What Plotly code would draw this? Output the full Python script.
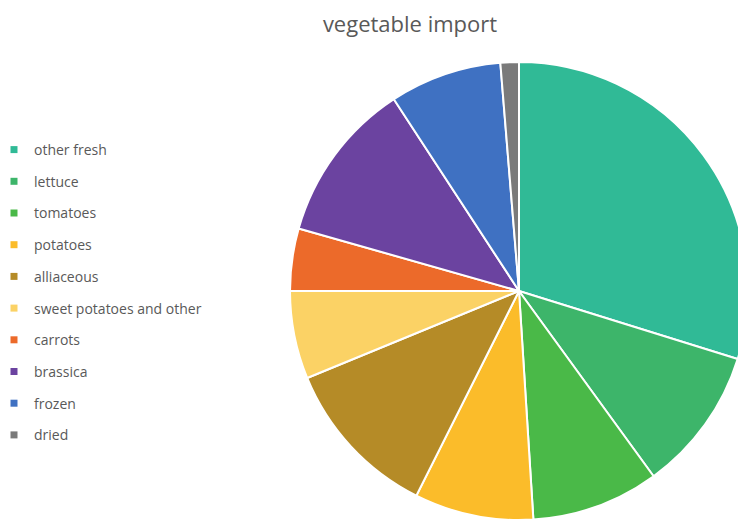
import plotly.graph_objects as go

categories = ["other fresh", "lettuce", "tomatoes", "potatoes", "alliaceous",
              "sweet potatoes and other", "carrots", "brassica", "frozen", "dried"]
values = [29.8, 10.2, 9.0, 8.4, 11.4, 6.2, 4.4, 11.4, 7.9, 1.3]
colors = ["#30BA96", "#3DB56A", "#4AB948", "#FBBC2A", "#B58B27",
          "#FBD265", "#EC6A2A", "#6B43A0", "#3F71C2", "#7A7A7A"]

W, H = 746, 520

fig = go.Figure()
fig.add_trace(go.Pie(
    labels=categories, values=values, sort=False, direction="clockwise",
    rotation=0, textinfo="none", showlegend=False,
    marker=dict(colors=colors, line=dict(color="white", width=2)),
    domain=dict(x=[282 / W, 740 / W], y=[1 - 512 / H, 1 - 54 / H]),
))
# legend entries (one per category, separate groups for spacing)
for c, col in zip(categories, colors):
    fig.add_trace(go.Scatter(
        x=[None], y=[None], mode="markers", name=c, legendgroup=c,
        marker=dict(symbol="square", size=7, color=col),
    ))

fig.update_layout(
    width=W, height=H,
    margin=dict(l=0, r=0, t=0, b=0, autoexpand=False),
    paper_bgcolor="white", plot_bgcolor="white",
    title=dict(text="vegetable import", x=402 / W, xanchor="center",
               y=1 - 16 / H, yanchor="middle", yref="container",
               font=dict(family="Open Sans", size=22, color="#595959")),
    legend=dict(x=-14 / W, xanchor="left", y=1 - 284.5 / H, yanchor="middle",
                tracegroupgap=10.5, font=dict(family="Open Sans", size=14, color="#595959"),
                bgcolor="rgba(0,0,0,0)"),
    xaxis=dict(visible=False), yaxis=dict(visible=False),
)
fig.write_html("out.html")
